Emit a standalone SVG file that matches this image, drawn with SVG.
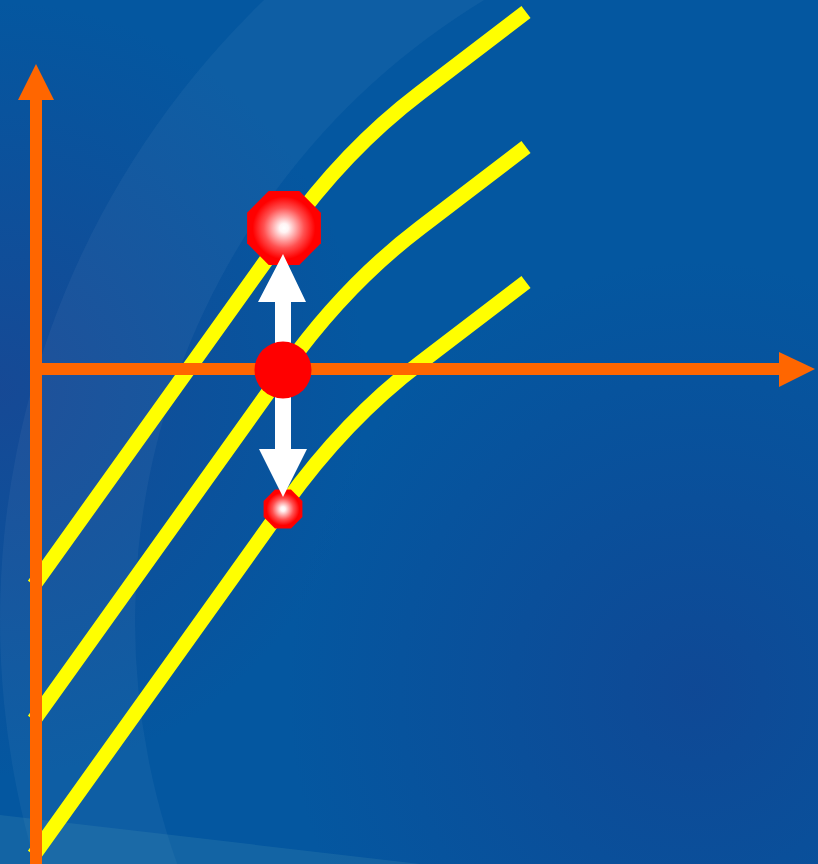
<svg xmlns="http://www.w3.org/2000/svg" width="818" height="864" viewBox="0 0 818 864">
  <defs>
    <radialGradient id="glow" cx="0.5" cy="0.5" r="0.5">
      <stop offset="0" stop-color="#ffffff"/>
      <stop offset="0.12" stop-color="#fff4f4"/>
      <stop offset="0.55" stop-color="#ff5050"/>
      <stop offset="0.85" stop-color="#ff0000"/>
      <stop offset="1" stop-color="#ff0000"/>
    </radialGradient>
    <radialGradient id="purpleL" cx="0" cy="0.45" r="0.45">
      <stop offset="0" stop-color="#22408e" stop-opacity="0.6"/>
      <stop offset="1" stop-color="#22408e" stop-opacity="0"/>
    </radialGradient>
    <radialGradient id="purpleR" cx="0.85" cy="0.8" r="0.5">
      <stop offset="0" stop-color="#163f8e" stop-opacity="0.6"/>
      <stop offset="1" stop-color="#163f8e" stop-opacity="0"/>
    </radialGradient>
    <style>
      .curve { fill: none; stroke: #ffff00; stroke-width: 15; stroke-linecap: butt; }
      .axis { fill: #ff6600; }
      .arrow { fill: #ffffff; }
    </style>
  </defs>

  <g id="background">
    <rect width="818" height="864" fill="#0457a0"/>
    <rect width="818" height="864" fill="url(#purpleL)"/>
    <rect width="818" height="864" fill="url(#purpleR)"/>
    <path d="M 860 620 m -860 0 a 860 860 0 1 0 1720 0 a 860 860 0 1 0 -1720 0 Z M 860 620 m -725 0 a 725 725 0 1 1 1450 0 a 725 725 0 1 1 -1450 0 Z" fill="#ffffff" fill-opacity="0.045" fill-rule="evenodd"/>
    <polygon points="0,815 420,864 0,864" fill="#5aa0b8" fill-opacity="0.18"/>
  </g>

  <g id="curves">
    <path id="curve1" class="curve" d="M 34 585 L 285 234 C 325 178 370 131 420 93 L 526 12"/>
    <path id="curve2" class="curve" d="M 34 585 L 285 234 C 325 178 370 131 420 93 L 526 12" transform="translate(0,135)"/>
    <path id="curve3" class="curve" d="M 34 585 L 285 234 C 325 178 370 131 420 93 L 526 12" transform="translate(0,270)"/>
  </g>

  <g id="axes">
    <g id="y-axis">
      <rect class="axis" x="30" y="98" width="12" height="766"/>
      <polygon class="axis" points="36,64 54,100 18,100"/>
    </g>
    <g id="x-axis">
      <rect class="axis" x="36" y="363" width="745" height="12"/>
      <polygon class="axis" points="815,369 779,352 779,387"/>
    </g>
  </g>

  <g id="point-high">
    <polygon points="320.9,212.7 320.9,243.3 299.3,264.9 268.7,264.9 247.1,243.3 247.1,212.7 268.7,191.1 299.3,191.1" fill="url(#glow)"/>
  </g>
  <g id="point-low">
    <polygon points="302.4,501.0 302.4,517.0 291.0,528.4 275.0,528.4 263.6,517.0 263.6,501.0 275.0,489.6 291.0,489.6" fill="url(#glow)"/>
  </g>

  <g id="connectors">
    <polygon class="arrow" points="283,254 306,302 291,302 291,449 307,449 283,497 259,449 275,449 275,302 258,302"/>
  </g>

  <g id="point-center">
    <circle cx="283" cy="370" r="28.5" fill="#ff0000"/>
  </g>
</svg>
